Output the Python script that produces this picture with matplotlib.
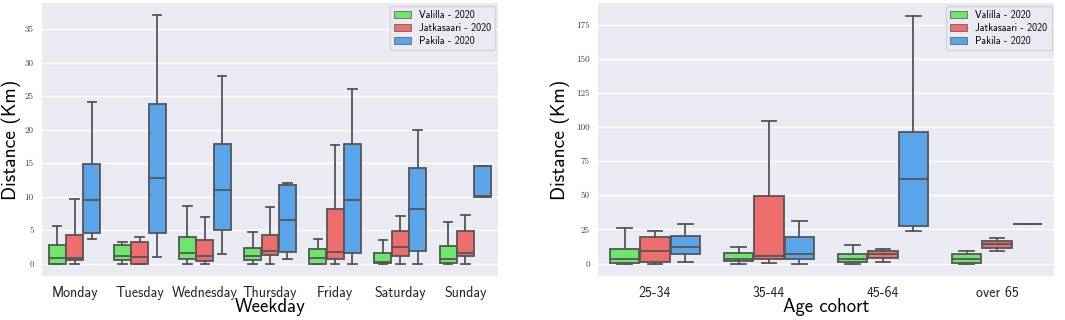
import numpy as np
import matplotlib
matplotlib.use("Agg")
import matplotlib.pyplot as plt
import matplotlib.patches as patches

# series labels and colours
series = ["Valilla - 2020", "Jatkasaari - 2020", "Pakila - 2020"]
colors = ["#6ee66e", "#ee6e6e", "#5aa5ea"]

# weekday panel: (whislo, q1, med, q3, whishi) per day, per series
days = ["Monday", "Tuesday", "Wednesday", "Thursday", "Friday", "Saturday", "Sunday"]
valilla_day = [(0, 0, 0.9, 2.8, 5.6), (0, 0.5, 1.2, 2.8, 3.25), (0, 0.65, 1.6, 3.9, 8.55),
               (0, 0.5, 1.2, 2.3, 4.7), (0, 0, 0.9, 2.2, 3.7), (0, 0.15, 0.25, 1.65, 3.5),
               (0, 0.15, 0.65, 2.7, 6.25)]
jatka_day = [(0, 0.5, 0.9, 4.3, 9.7), (0, 0, 1.05, 3.2, 3.95), (0, 0.35, 1.2, 3.45, 6.95),
             (0, 1.35, 1.95, 4.25, 8.5), (0, 0.65, 1.8, 8.1, 17.7), (0, 1.1, 2.45, 4.9, 7.1),
             (0, 1.1, 1.55, 4.9, 7.3)]
pakila_day = [(3.7, 4.55, 9.45, 14.85, 24.05), (0.95, 4.55, 12.8, 23.8, 37.1),
              (1.4, 5.0, 11.05, 17.9, 27.95), (0.65, 1.75, 6.45, 11.75, 12.0),
              (0, 1.65, 9.45, 17.9, 26.0), (0, 1.85, 8.1, 14.2, 20.0),
              (10.0, 10.0, 10.15, 14.5, 14.5)]

# age cohort panel
cohorts = ["25-34", "35-44", "45-64", "over 65"]
valilla_age = [(0, 0.7, 3.2, 10.9, 25.7), (0, 1.7, 3.6, 7.5, 12.1),
               (0, 1.2, 3.2, 7.3, 13.3), (0, 0.7, 3.2, 6.8, 9.5)]
jatka_age = [(0, 1.2, 9.5, 19.1, 23.5), (0.7, 3.2, 5.8, 49.2, 104.5),
             (1.2, 4.1, 7.3, 9.5, 10.4), (9.2, 11.6, 14.3, 16.5, 18.7)]
pakila_age = [(1.2, 7.3, 12.1, 20.4, 28.6), (0, 3.6, 7.0, 19.1, 31.5),
              (24.2, 27.4, 62.0, 96.0, 181.5), (28.6, 28.6, 28.6, 28.6, 28.6)]

plt.rcParams["font.family"] = ["cmss10", "DejaVu Sans"]
plt.rcParams["axes.unicode_minus"] = False

fig = plt.figure(figsize=(10.65, 3.2), dpi=100)
ax1 = fig.add_axes([0.0394, 0.1375, 0.4282, 0.8525])
ax2 = fig.add_axes([0.5615, 0.1375, 0.4282, 0.8525])

edge = "#555555"


def draw(ax, cats, groups, ticks, xlabel, ylab_x):
    ax.set_facecolor("#eaeaf2")
    ax.set_axisbelow(True)
    ax.grid(True, axis="y", color="white", linewidth=1.0)
    for s, data in enumerate(groups):
        stats = []
        for lo, q1, med, q3, hi in data:
            stats.append(dict(whislo=lo, q1=q1, med=med, q3=q3, whishi=hi, fliers=[]))
        pos = np.arange(len(cats)) + (s - 1) * 0.2667
        ax.bxp(stats, positions=pos, widths=0.26, patch_artist=True, showfliers=False,
               boxprops=dict(facecolor=colors[s], edgecolor=edge, linewidth=1.3),
               medianprops=dict(color=edge, linewidth=1.3),
               whiskerprops=dict(color=edge, linewidth=1.3),
               capprops=dict(color=edge, linewidth=1.3), capwidths=0.13)
    ax.set_xlim(-0.5, len(cats) - 0.5)
    ax.set_xticks(np.arange(len(cats)))
    ax.set_xticklabels(cats, fontsize=10, color="#222222")
    ax.set_yticks(ticks)
    ax.set_yticklabels([str(t) for t in ticks], family="cmr10", fontsize=6.5, color="#444444")
    ax.tick_params(length=0, pad=6)
    ax.tick_params(axis="x", pad=7)
    ax.set_xlabel(xlabel, fontsize=13.5, labelpad=-1)
    ax.set_ylabel("Distance (Km)", fontsize=14)
    ax.yaxis.set_label_coords(ylab_x, 0.5)
    for sp in ax.spines.values():
        sp.set_visible(False)
    handles = [patches.Patch(facecolor=colors[i], edgecolor="#666666", linewidth=0.6,
                             label=series[i]) for i in range(3)]
    leg = ax.legend(handles=handles, loc="upper right", fontsize=7.2, frameon=True,
                    handlelength=1.7, handleheight=0.7, handletextpad=0.8,
                    borderaxespad=0.25, labelspacing=0.3, borderpad=0.4)
    leg.get_frame().set_facecolor("#eaeaf2")
    leg.get_frame().set_edgecolor("#d0d0d0")


draw(ax1, days, [valilla_day, jatka_day, pakila_day], [0, 5, 10, 15, 20, 25, 30, 35],
     "Weekday", -0.046)
ax1.set_ylim(-1.85, 38.85)
draw(ax2, cohorts, [valilla_age, jatka_age, pakila_age], [0, 25, 50, 75, 100, 125, 150, 175],
     "Age cohort", -0.061)
ax2.set_ylim(-9.1, 190.6)

fig.savefig("out.png", dpi=100)
